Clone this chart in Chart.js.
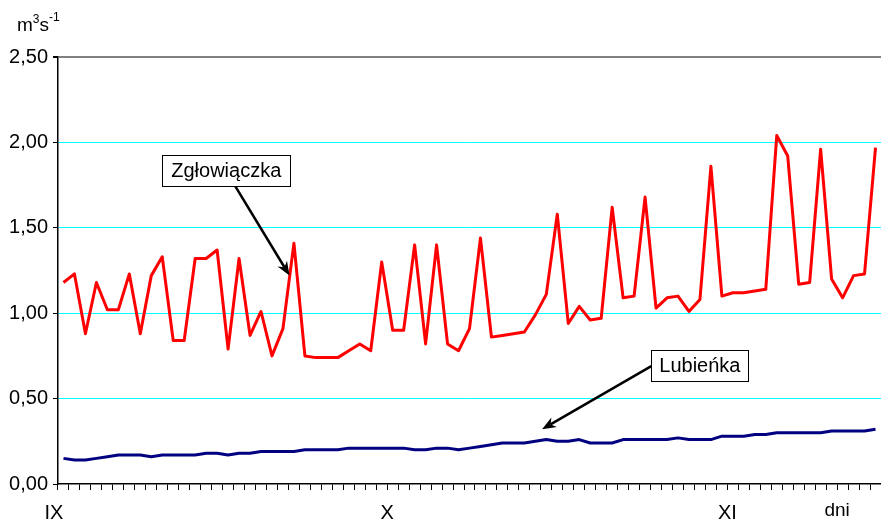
<!DOCTYPE html>
<html>
<head>
<meta charset="utf-8">
<script src="https://cdn.jsdelivr.net/npm/chart.js@4.4.0/dist/chart.umd.min.js"></script>
<style>
  html, body { margin: 0; padding: 0; background: #fff; }
  #wrap { position: relative; width: 881px; height: 520px; }
</style>
</head>
<body>
<div id="wrap"><canvas id="flow-chart" width="881" height="520"></canvas></div>
<script>
// Daily discharge, m3/s (1 IX - 14 XI)
const zglowiaczka = [
  1.18, 1.23, 0.88, 1.18, 1.02, 1.02, 1.23, 0.88, 1.22, 1.33,
  0.84, 0.84, 1.32, 1.32, 1.37, 0.79, 1.32, 0.87, 1.01, 0.75,
  0.91, 1.41, 0.75, 0.74, 0.74, 0.74, 0.78, 0.82, 0.78, 1.30,
  0.90, 0.90, 1.40, 0.82, 1.40, 0.82, 0.78, 0.91, 1.44, 0.86,
  0.87, 0.88, 0.89, 0.99, 1.11, 1.58, 0.94, 1.04, 0.96, 0.97,
  1.62, 1.09, 1.10, 1.68, 1.03, 1.09, 1.10, 1.01, 1.08, 1.86,
  1.10, 1.12, 1.12, 1.13, 1.14, 2.04, 1.92, 1.17, 1.18, 1.96,
  1.20, 1.09, 1.22, 1.23, 1.97
];
const lubienka = [
  0.15, 0.14, 0.14, 0.15, 0.16, 0.17, 0.17, 0.17, 0.16, 0.17,
  0.17, 0.17, 0.17, 0.18, 0.18, 0.17, 0.18, 0.18, 0.19, 0.19,
  0.19, 0.19, 0.20, 0.20, 0.20, 0.20, 0.21, 0.21, 0.21, 0.21,
  0.21, 0.21, 0.20, 0.20, 0.21, 0.21, 0.20, 0.21, 0.22, 0.23,
  0.24, 0.24, 0.24, 0.25, 0.26, 0.25, 0.25, 0.26, 0.24, 0.24,
  0.24, 0.26, 0.26, 0.26, 0.26, 0.26, 0.27, 0.26, 0.26, 0.26,
  0.28, 0.28, 0.28, 0.29, 0.29, 0.30, 0.30, 0.30, 0.30, 0.30,
  0.31, 0.31, 0.31, 0.31, 0.32
];
const monthNames = ["IX", "X", "XI"];
const monthLengths = [30, 31, 14];
const axisUnitLabel = "dni";
const axisUnitAt = 71;

// one category per day
const days = [];
monthNames.forEach(function (m, mi) {
  for (let d = 1; d <= monthLengths[mi]; d++) days.push(d + " " + m);
});

const FONT = "'Liberation Sans', Arial, sans-serif";

// callouts in data units: [index, value]
const callouts = [
  { text: "Zgłowiączka", box: [9.0, 20.67, 1.924, 1.743], from: [15.65, 1.744], to: [20.6, 1.22] },
  { text: "Lubieńka", box: [53.57, 62.42, 0.784, 0.602], from: [53.57, 0.69], to: [43.61, 0.32] },
];

function drawArrow(ctx, x1, y1, x2, y2) {
  const a = Math.atan2(y2 - y1, x2 - x1);
  const len = 14, half = 5.5;
  const c = Math.cos(a), s = Math.sin(a);
  ctx.beginPath();
  ctx.moveTo(x1, y1);
  ctx.lineTo(x2 - len * 0.7 * c, y2 - len * 0.7 * s);
  ctx.stroke();
  ctx.beginPath();
  ctx.moveTo(x2, y2);
  ctx.lineTo(x2 - len * c + half * s, y2 - len * s - half * c);
  ctx.lineTo(x2 - len * 0.7 * c, y2 - len * 0.7 * s);
  ctx.lineTo(x2 - len * c - half * s, y2 - len * s + half * c);
  ctx.closePath();
  ctx.fill();
}

const decorPlugin = {
  id: "decor",
  afterDraw: function (chart) {
    const ctx = chart.ctx;
    const xs = chart.scales.x, ys = chart.scales.y;
    ctx.save();

    // month labels at day boundaries
    ctx.fillStyle = "#000";
    ctx.font = "20px " + FONT;
    ctx.textAlign = "center";
    ctx.textBaseline = "middle";
    let start = 0;
    monthNames.forEach(function (m, mi) {
      const shift = start === 0 ? -4 : 0;
      ctx.fillText(m, xs.getPixelForValue(start - 0.5) + shift, 513);
      start += monthLengths[mi];
    });
    ctx.font = "19px " + FONT;
    ctx.fillText(axisUnitLabel, xs.getPixelForValue(axisUnitAt - 0.5), 511);

    // unit title m3s-1
    ctx.textAlign = "left";
    ctx.textBaseline = "alphabetic";
    let x = 17;
    ctx.font = "19px " + FONT;
    ctx.fillText("m", x, 31); x += ctx.measureText("m").width;
    ctx.font = "12px " + FONT;
    ctx.fillText("3", x, 23); x += ctx.measureText("3").width;
    ctx.font = "19px " + FONT;
    ctx.fillText("s", x, 31); x += ctx.measureText("s").width;
    ctx.font = "12px " + FONT;
    ctx.fillText("-1", x, 21);

    // callouts
    ctx.strokeStyle = "#000";
    ctx.fillStyle = "#000";
    callouts.forEach(function (c) {
      ctx.lineWidth = 2.5;
      drawArrow(ctx,
        xs.getPixelForValue(c.from[0]), ys.getPixelForValue(c.from[1]),
        xs.getPixelForValue(c.to[0]), ys.getPixelForValue(c.to[1]));
      const l = xs.getPixelForValue(c.box[0]), r = xs.getPixelForValue(c.box[1]);
      const t = ys.getPixelForValue(c.box[2]), b = ys.getPixelForValue(c.box[3]);
      ctx.fillStyle = "#fff";
      ctx.fillRect(l, t, r - l, b - t);
      ctx.lineWidth = 1;
      ctx.strokeRect(Math.round(l) + 0.5, Math.round(t) + 0.5, Math.round(r - l), Math.round(b - t));
      ctx.fillStyle = "#000";
      ctx.font = "20px " + FONT;
      ctx.textAlign = "center";
      ctx.textBaseline = "middle";
      ctx.fillText(c.text, (l + r) / 2, (t + b) / 2 + 1);
    });
    ctx.restore();
  },
};

document.addEventListener("DOMContentLoaded", function () {
  const ctx = document.getElementById("flow-chart").getContext("2d");

  new Chart(ctx, {
    type: "line",
    data: {
      labels: days,
      datasets: [
        {
          label: "Lubieńka",
          data: lubienka,
          borderColor: "#000080",
          borderWidth: 3,
          borderJoinStyle: "round",
          pointRadius: 0,
          tension: 0,
          fill: false,
        },
        {
          label: "Zgłowiączka",
          data: zglowiaczka,
          borderColor: "#FF0000",
          borderWidth: 3,
          borderJoinStyle: "round",
          pointRadius: 0,
          tension: 0,
          fill: false,
        },
      ],
    },
    options: {
      responsive: false,
      animation: false,
      devicePixelRatio: 1,
      layout: { padding: { top: 57, left: 0, right: 0, bottom: 0 } },
      plugins: {
        legend: { display: false },
        tooltip: { enabled: false },
      },
      scales: {
        x: {
          type: "category",
          offset: true,
          grid: {
            offset: true,
            drawOnChartArea: false,
            tickLength: 6,
            tickColor: "#000",
          },
          border: { color: "#000", width: 1.5 },
          ticks: { display: false, autoSkip: false },
          afterFit: function (s) { s.height = 36; },
        },
        y: {
          min: 0,
          max: 2.5,
          ticks: {
            stepSize: 0.5,
            color: "#000",
            padding: 5,
            font: { family: FONT, size: 20 },
            callback: function (v) { return v.toFixed(2).replace(".", ","); },
          },
          grid: {
            color: function (c) {
              if (c.index === 5) return "#808080";
              if (c.index === 0) return "rgba(0,0,0,0)";
              return "#00FFFF";
            },
            lineWidth: function (c) { return c.index === 5 ? 2 : 1; },
            tickLength: 5,
            tickColor: "#000",
          },
          border: { color: "#000", width: 1.5 },
          afterFit: function (s) { s.width = 58; },
        },
      },
    },
    plugins: [decorPlugin],
  });
});
</script>
</body>
</html>
